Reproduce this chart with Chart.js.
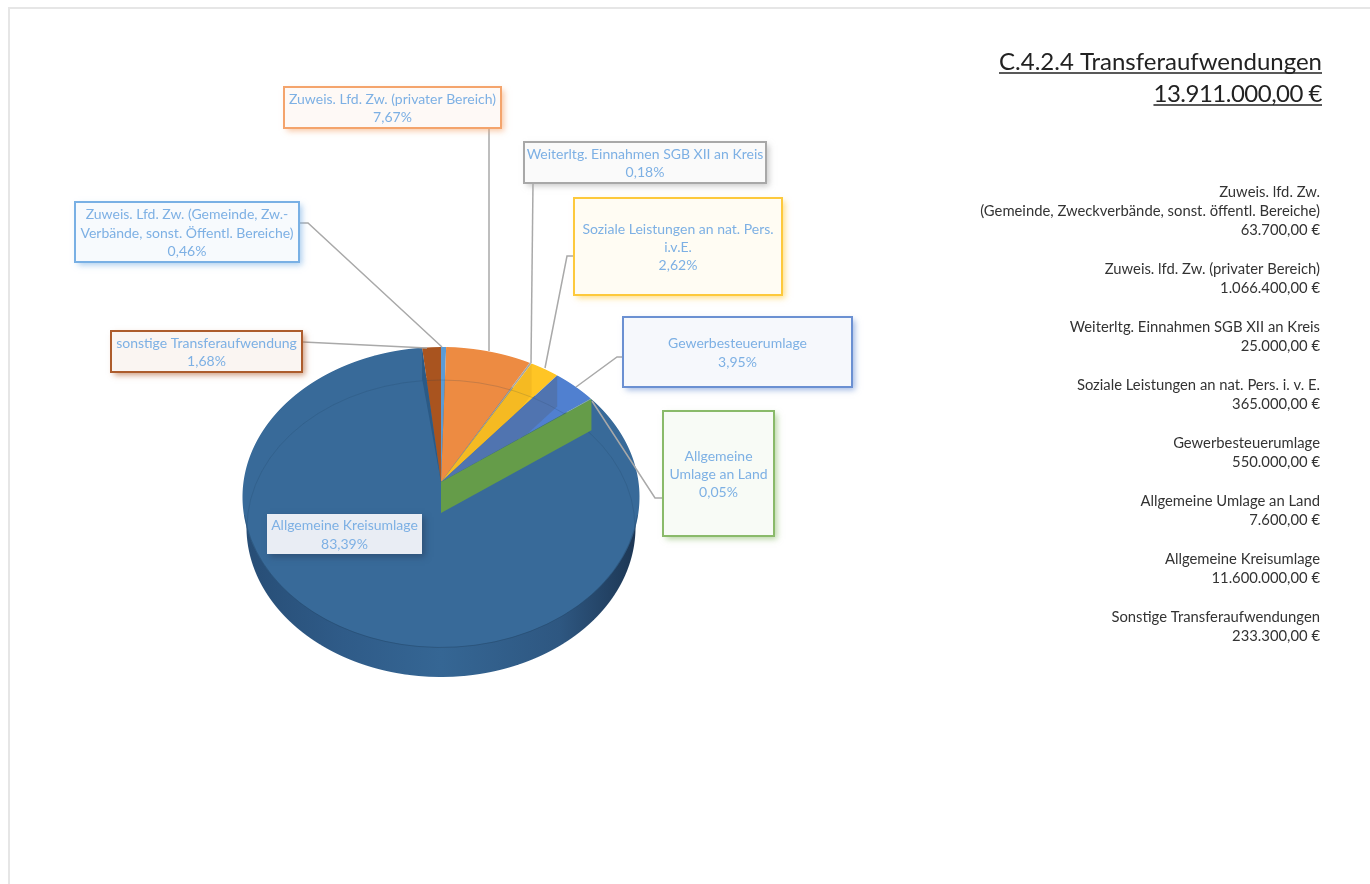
<!DOCTYPE html>
<html>
<head>
<meta charset="utf-8">
<title>C.4.2.4 Transferaufwendungen</title>
<script src="https://cdn.jsdelivr.net/npm/chart.js@4"></script>
<style>
  html, body { margin: 0; background: #fff; }
  canvas { display: block; filter: blur(0.45px); }
</style>
</head>
<body>
<canvas id="myChart" width="1370" height="884"></canvas>
<script>
const titleLines = ['C.4.2.4 Transferaufwendungen', '13.911.000,00 €'];

const categories = [
  'Zuweis. Lfd. Zw. (Gemeinde, Zw.-Verbände, sonst. Öffentl. Bereiche)',
  'Zuweis. Lfd. Zw. (privater Bereich)',
  'Weiterltg. Einnahmen SGB XII an Kreis',
  'Soziale Leistungen an nat. Pers. i.v.E.',
  'Gewerbesteuerumlage',
  'Allgemeine Umlage an Land',
  'Allgemeine Kreisumlage',
  'sonstige Transferaufwendung'
];
const values = [63700, 1066400, 25000, 365000, 550000, 7600, 11600000, 233300];
const total = 13911000;

// wrapped the way the boxes wrap them, the percent line is added later
const boxLines = [
  ['Zuweis. Lfd. Zw. (Gemeinde, Zw.-', 'Verbände, sonst. Öffentl. Bereiche)'],
  ['Zuweis. Lfd. Zw. (privater Bereich)'],
  ['Weiterltg. Einnahmen SGB XII an Kreis'],
  ['Soziale Leistungen an nat. Pers.', 'i.v.E.'],
  ['Gewerbesteuerumlage'],
  ['Allgemeine', 'Umlage an Land'],
  ['Allgemeine Kreisumlage'],
  ['sonstige Transferaufwendung']
];
const sideNames = [
  ['Zuweis. lfd. Zw.', '(Gemeinde, Zweckverbände, sonst. öffentl. Bereiche)'],
  ['Zuweis. lfd. Zw. (privater Bereich)'],
  ['Weiterltg. Einnahmen SGB XII an Kreis'],
  ['Soziale Leistungen an nat. Pers. i. v. E.'],
  ['Gewerbesteuerumlage'],
  ['Allgemeine Umlage an Land'],
  ['Allgemeine Kreisumlage'],
  ['Sonstige Transferaufwendungen']
];

const sliceColors = ['#5b9bd5', '#ed8b42', '#a5a5a5', '#ffc525', '#5080d0', '#659c49', '#386a99', '#a9541f'];
const boxBorders = ['#79b0e4', '#f4a46c', '#a8a8a8', '#fdc93c', '#6b90d2', '#8aba6a', null, '#ad5c2c'];

// box rectangles and their leader lines
const boxRects = [
  [75, 202, 224, 60], [284, 87, 217, 41], [524, 142, 242, 41], [574, 198, 208, 97],
  [623, 317, 229, 70], [663, 411, 111, 125], [267, 514, 155, 40], [111, 331, 191, 41]
];
const leaders = [
  [[300, 223], [308, 223], [442, 347]],
  [[489, 128], [489, 351]],
  [[533, 183], [531, 363]],
  [[573, 256], [567, 256], [545, 368]],
  [[623, 357], [617, 357], [576, 387]],
  [[662, 498], [655, 498], [592, 401]],
  [],
  [[303, 342], [427, 348]]
];

// the pie is a circle lying on its side, seen in perspective
const apexX = 441, apexY = 482;
const persA = 148.5, persB = 197.5, persK = -0.1;
const rimTop = 347, rimBottom = 648;
const drop = 30;

function project(angle, down) {
  const u = Math.cos(angle), v = Math.sin(angle), d = 1 + persK * v;
  return { x: apexX + persB * u / d, y: apexY + persA * v / d + (down || 0) };
}

function drawTilted(ctx, arcs, down, shrink) {
  const arc0 = arcs[0];
  const R = arc0.outerRadius;
  for (let row = rimTop; row <= rimBottom; row++) {
    const yc = row + 0.5 - apexY;
    const vc = yc / (persA - persK * yc);
    const d = 1 + persK * vc;
    const sx = persB * shrink / (d * R);
    const sy = persA / (d * d * R);
    ctx.save();
    ctx.beginPath();
    ctx.rect(0, row + down, ctx.canvas.width, 1);
    ctx.clip();
    ctx.setTransform(sx, 0, 0, sy, apexX - arc0.x * sx, row + 0.5 + down - sy * (vc * R + arc0.y));
    arcs.forEach((arc) => arc.draw(ctx));
    ctx.restore();
  }
}

function slicePath(ctx, arc) {
  ctx.beginPath();
  ctx.moveTo(apexX, apexY);
  for (let i = 0; i <= 40; i++) {
    const p = project(arc.startAngle + (arc.endAngle - arc.startAngle) * i / 40);
    ctx.lineTo(p.x, p.y);
  }
  ctx.closePath();
}

function wallPath(ctx, angle, tapered) {
  const rim = project(angle), low = project(angle, drop + 1);
  ctx.beginPath();
  ctx.moveTo(apexX, apexY);
  ctx.lineTo(rim.x, rim.y);
  ctx.lineTo(low.x, low.y);
  if (!tapered) ctx.lineTo(apexX, apexY + drop + 1);
  ctx.closePath();
}

const tiltedPie = {
  id: 'tiltedPie',
  beforeDatasetsDraw(chart) {
    const ctx = chart.ctx;
    const arcs = chart.getDatasetMeta(0).data;

    // outer side of the cylinder
    drawTilted(ctx, arcs, drop, 0.98);
    ctx.save();
    ctx.globalCompositeOperation = 'source-atop';
    const side = ctx.createLinearGradient(apexX - 198, 0, apexX + 198, 0);
    side.addColorStop(0, '#274d75');
    side.addColorStop(0.25, '#2f5b88');
    side.addColorStop(0.5, '#356694');
    side.addColorStop(0.8, '#2e5781');
    side.addColorStop(1, '#1c3552');
    ctx.fillStyle = side;
    ctx.fillRect(0, 0, chart.width, chart.height);
    ctx.restore();

    // top surface
    drawTilted(ctx, arcs, 0, 1);

    // darker rim where the top meets the side
    ctx.beginPath();
    ctx.ellipse(apexX, 497, 198, 150.5, 0, 0.12, Math.PI - 0.12);
    ctx.strokeStyle = 'rgba(30, 60, 90, 0.35)';
    ctx.lineWidth = 1;
    ctx.stroke();

    // floor of the cylinder shows faintly through the top
    ctx.save();
    ctx.beginPath();
    ctx.ellipse(apexX, 497, 198.5, 150.5, 0, 0, Math.PI * 2);
    ctx.clip();
    ctx.beginPath();
    ctx.ellipse(apexX, 497 + drop + 1, 194, 148, 0, 0, Math.PI * 2);
    ctx.strokeStyle = 'rgba(30, 60, 90, 0.18)';
    ctx.stroke();
    ctx.restore();

    // inner cut faces seen through the small slices
    [[3, 'rgba(190, 130, 20, 0.16)'], [4, 'rgba(80, 90, 110, 0.32)']].forEach(([i, color]) => {
      ctx.save();
      slicePath(ctx, arcs[i]);
      ctx.clip();
      wallPath(ctx, arcs[i].startAngle);
      ctx.fillStyle = color;
      ctx.fill();
      ctx.restore();
    });

    // dark stripe at the far edge of the big slice
    ctx.save();
    slicePath(ctx, arcs[6]);
    ctx.clip();
    wallPath(ctx, arcs[6].endAngle, true);
    ctx.fillStyle = '#2b5a86';
    ctx.fill();
    ctx.restore();

    // green cut face in front of the big slice
    wallPath(ctx, arcs[5].endAngle);
    ctx.fillStyle = sliceColors[5];
    ctx.fill();

    return false;
  },
  afterDraw(chart) {
    const ctx = chart.ctx;
    ctx.save();

    // frame of the page
    ctx.strokeStyle = '#e6e6e6';
    ctx.lineWidth = 2;
    ctx.beginPath();
    ctx.moveTo(9, 884);
    ctx.lineTo(9, 8);
    ctx.lineTo(1370, 8);
    ctx.stroke();

    // leader lines
    ctx.strokeStyle = '#a9a9a9';
    ctx.lineWidth = 1.5;
    leaders.forEach((pts) => {
      if (!pts.length) return;
      ctx.beginPath();
      pts.forEach((p, i) => (i ? ctx.lineTo(p[0], p[1]) : ctx.moveTo(p[0], p[1])));
      ctx.stroke();
    });

    // label boxes
    boxRects.forEach((rect, i) => {
      const [x, y, w, h] = rect;
      const border = boxBorders[i];
      ctx.save();
      ctx.shadowColor = border ? border + 'a0' : 'rgba(40, 60, 90, 0.5)';
      ctx.shadowBlur = 6;
      ctx.shadowOffsetX = 3;
      ctx.shadowOffsetY = 3;
      ctx.fillStyle = border ? '#fff' : '#e9edf4';
      ctx.fillRect(x, y, w, h);
      ctx.restore();
      if (border) {
        ctx.fillStyle = border + '10';
        ctx.fillRect(x, y, w, h);
        ctx.strokeStyle = border;
        ctx.lineWidth = 2;
        ctx.strokeRect(x, y, w, h);
      }
      const lines = boxLines[i].concat((values[i] / total * 100).toFixed(2).replace('.', ',') + '%');
      ctx.fillStyle = '#7db0e4';
      ctx.font = '14px Lato';
      ctx.textAlign = 'center';
      ctx.textBaseline = 'middle';
      lines.forEach((line, n) => {
        ctx.fillText(line, x + w / 2, y + h / 2 + 1 + (n - (lines.length - 1) / 2) * 18.2);
      });
    });

    // title top right
    ctx.fillStyle = '#222';
    ctx.strokeStyle = '#222';
    ctx.font = '24px Lato';
    ctx.textAlign = 'right';
    ctx.textBaseline = 'alphabetic';
    ctx.lineWidth = 1.6;
    titleLines.forEach((line, n) => {
      const y = 70 + n * 32;
      ctx.letterSpacing = n ? '-0.5px' : '0px';
      ctx.fillText(line, 1322, y);
      ctx.beginPath();
      ctx.moveTo(1322 - ctx.measureText(line).width, y + 3);
      ctx.lineTo(1322, y + 3);
      ctx.stroke();
    });
    ctx.letterSpacing = '0px';

    // amounts column
    ctx.fillStyle = '#333';
    ctx.font = '14.8px Lato';
    ctx.textBaseline = 'middle';
    let y = 192;
    sideNames.forEach((names, i) => {
      const amount = values[i].toLocaleString('de-DE', { minimumFractionDigits: 2 }) + ' €';
      names.concat(amount).forEach((line) => {
        ctx.fillText(line, 1320, y);
        y += 19;
      });
      y += 20;
    });
    ctx.restore();
  }
};

new Chart(document.getElementById('myChart'), {
  type: 'pie',
  data: {
    labels: categories,
    datasets: [{
      data: values,
      backgroundColor: sliceColors,
      borderWidth: 0
    }]
  },
  options: {
    responsive: false,
    animation: false,
    plugins: {
      legend: { display: false },
      tooltip: { enabled: false }
    }
  },
  plugins: [tiltedPie]
});
</script>
</body>
</html>
